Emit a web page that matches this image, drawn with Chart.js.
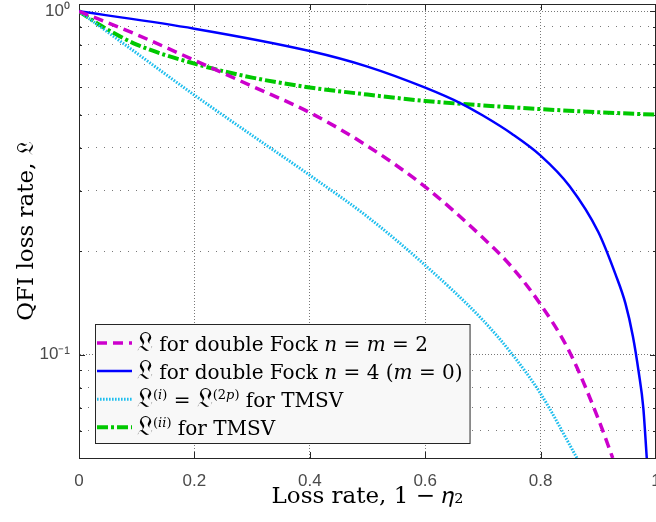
<!DOCTYPE html>
<html>
<head>
<meta charset="utf-8">
<script src="https://cdn.jsdelivr.net/npm/chart.js@4.4.0/dist/chart.umd.min.js"></script>
<style>
  html, body { margin: 0; padding: 0; background: #fff; overflow: hidden; }
  #wrap { width: 656px; height: 522px; }
</style>
</head>
<body>
<div id="wrap"><canvas id="qfiChart" width="656" height="522"></canvas></div>
<script>
// values (loss rate 1 - eta2 vs QFI loss rate)
const fock22X = [0, 0.1, 0.2, 0.3, 0.4, 0.5, 0.6, 0.7, 0.75, 0.8, 0.85, 0.9, 0.925];
const fock22Y = [1, 0.855, 0.72, 0.605, 0.507, 0.405, 0.308, 0.219, 0.18, 0.14, 0.102, 0.065, 0.05];

const fock40X = [0, 0.2, 0.4, 0.5, 0.6, 0.665, 0.7, 0.75, 0.8, 0.85, 0.9, 0.93, 0.947, 0.96, 0.97, 0.978, 0.984];
const fock40Y = [1, 0.89, 0.766, 0.69, 0.599, 0.536, 0.497, 0.44, 0.38, 0.31, 0.2276, 0.171, 0.141, 0.113, 0.089, 0.07, 0.05];

const tmsv2pX = [0, 0.1, 0.2, 0.3, 0.4, 0.5, 0.6, 0.7, 0.75, 0.8, 0.863];
const tmsv2pY = [1, 0.755, 0.57, 0.435, 0.333, 0.252, 0.182, 0.126, 0.1006, 0.077, 0.05];

const tmsvIIX = [0, 0.037, 0.1, 0.2, 0.3, 0.4, 0.5, 0.6, 0.7, 0.8, 0.9, 1.0];
const tmsvIIY = [1, 0.91, 0.80, 0.704, 0.641, 0.60, 0.572, 0.548, 0.532, 0.519, 0.508, 0.5];

const seriesLabels = [
  '𝔏 for double Fock n = m = 2',
  '𝔏 for double Fock n = 4 (m = 0)',
  '𝔏(i) = 𝔏(2p) for TMSV',
  '𝔏(ii) for TMSV'
];
// same labels with _italic_ and ^superscript^ marks for the legend box
const legendRows = [
  '𝔏 for double Fock _n_ = _m_ = 2',
  '𝔏 for double Fock _n_ = 4 (_m_ = 0)',
  '𝔏^(_i_)^ = 𝔏^(2_p_)^ for TMSV',
  '𝔏^(_ii_)^ for TMSV'
];

const xTicks = [0, 0.2, 0.4, 0.6, 0.8, 1];
const yTicks = [0.05, 0.06, 0.07, 0.08, 0.09, 0.1, 0.2, 0.3, 0.4, 0.5, 0.6, 0.7, 0.8, 0.9, 1];
const yTickLabels = { '0.1': '10⁻¹', '1': '10⁰' };

const axisColor = '#262626';
const gridColor = 'rgba(30,30,30,0.6)';
const serif = '"DejaVu Serif"';

function pts(xs, ys) {
  return xs.map((x, i) => ({ x: x, y: ys[i] }));
}
function isMajor(v) {
  return Math.abs(v - 1) < 1e-9 || Math.abs(v - 0.1) < 1e-9;
}

// writes a marked-up string; returns its width
function drawRich(ctx, str, x, y, draw) {
  let italic = false, sup = false, w = 0;
  let run = '';
  const flush = (big) => {
    if (!run) return;
    const size = (sup ? 13 : 20) * (big ? 1.35 : 1);
    ctx.font = (italic ? 'italic ' : '') + size + 'px ' + serif;
    if (draw) ctx.fillText(run, x + w, sup ? y - 8 : y);
    w += ctx.measureText(run).width;
    run = '';
  };
  for (const ch of str) {
    if (ch === '_') { flush(); italic = !italic; }
    else if (ch === '^') { flush(); sup = !sup; }
    else if (ch === '𝔏') { flush(); run = ch; flush(true); }
    else run += ch;
  }
  flush();
  return w;
}

function noEdgePadding(scale) {
  scale.paddingLeft = 0;
  scale.paddingRight = 0;
  scale.paddingTop = 0;
  scale.paddingBottom = 0;
}

const axisBox = {
  id: 'axisBox',
  beforeDatasetsDraw(chart) {
    const { ctx, chartArea: a, scales: { x, y } } = chart;
    ctx.save();
    ctx.strokeStyle = axisColor;
    ctx.lineWidth = 1;
    ctx.beginPath();
    ctx.moveTo(a.left, a.top + 0.5); ctx.lineTo(a.right, a.top + 0.5);
    ctx.moveTo(a.right - 0.5, a.top); ctx.lineTo(a.right - 0.5, a.bottom);
    x.ticks.forEach(t => {
      const px = Math.round(x.getPixelForValue(t.value)) + 0.5;
      ctx.moveTo(px, a.bottom); ctx.lineTo(px, a.bottom - 6);
      ctx.moveTo(px, a.top); ctx.lineTo(px, a.top + 6);
    });
    y.ticks.forEach(t => {
      const py = Math.round(y.getPixelForValue(t.value)) + 0.5;
      const len = isMajor(t.value) ? 6 : 3;
      ctx.moveTo(a.left, py); ctx.lineTo(a.left + len, py);
      ctx.moveTo(a.right, py); ctx.lineTo(a.right - len, py);
    });
    ctx.stroke();
    ctx.restore();
  }
};

const boxLegend = {
  id: 'boxLegend',
  afterDraw(chart) {
    const { ctx, chartArea: a } = chart;
    const sets = chart.data.datasets;
    ctx.save();
    const widths = legendRows.map(r => drawRich(ctx, r, 0, 0, false));
    const w = 42 + Math.max(...widths) + 7;
    const h = 119;
    const left = Math.round(a.left + 16), top = Math.round(a.bottom - 15 - h);
    ctx.fillStyle = '#f8f8f8';
    ctx.fillRect(left, top, w, h);
    ctx.strokeStyle = axisColor;
    ctx.lineWidth = 1;
    ctx.strokeRect(left + 0.5, top + 0.5, w, h);
    sets.forEach((ds, i) => {
      const cy = top + 19 + i * 28.1;
      ctx.strokeStyle = ds.borderColor;
      ctx.lineWidth = ds.borderWidth;
      ctx.setLineDash(ds.borderDash || []);
      ctx.beginPath();
      ctx.moveTo(left + 2, cy);
      ctx.lineTo(left + 37, cy);
      ctx.stroke();
      ctx.setLineDash([]);
      ctx.fillStyle = '#000';
      ctx.textBaseline = 'alphabetic';
      drawRich(ctx, legendRows[i], left + 42, cy + 7.5, true);
    });
    ctx.restore();
  }
};

const ctx = document.getElementById('qfiChart').getContext('2d');

const qfiChart = new Chart(ctx, {
  type: 'line',
  data: {
    datasets: [
      {
        label: seriesLabels[0],
        data: pts(fock22X, fock22Y),
        borderColor: 'rgb(204,0,204)',
        borderWidth: 3.5,
        borderDash: [10, 6]
      },
      {
        label: seriesLabels[1],
        data: pts(fock40X, fock40Y),
        borderColor: 'rgb(0,0,255)',
        borderWidth: 2.5
      },
      {
        label: seriesLabels[2],
        data: pts(tmsv2pX, tmsv2pY),
        borderColor: 'rgb(30,190,238)',
        borderWidth: 3,
        borderDash: [1.6, 1.4]
      },
      {
        label: seriesLabels[3],
        data: pts(tmsvIIX, tmsvIIY),
        borderColor: 'rgb(0,200,0)',
        borderWidth: 4,
        borderDash: [11, 3, 3, 3]
      }
    ]
  },
  options: {
    responsive: false,
    animation: false,
    layout: { autoPadding: false, padding: { top: 4, right: 0, bottom: 0, left: 0 } },
    elements: {
      point: { radius: 0 },
      line: { cubicInterpolationMode: 'monotone', fill: false, borderCapStyle: 'butt' }
    },
    plugins: {
      legend: { display: false },
      tooltip: { enabled: false }
    },
    scales: {
      x: {
        type: 'linear',
        min: 0,
        max: 1,
        afterBuildTicks: scale => { scale.ticks = xTicks.map(v => ({ value: v })); },
        afterFit: scale => { scale.height = 64; noEdgePadding(scale); },
        ticks: {
          autoSkip: false,
          maxRotation: 0,
          padding: 13,
          color: '#4a4a4a',
          font: { family: '"Liberation Sans"', size: 17 },
          callback: v => String(+v.toFixed(1))
        },
        grid: {
          drawTicks: false,
          color: c => (c.tick && (c.tick.value <= 0 || c.tick.value >= 1)) ? 'rgba(0,0,0,0)' : gridColor
        },
        border: { color: axisColor, width: 1, dash: [1, 2] },
        title: {
          display: true,
          text: 'Loss rate, 1 − 𝜂₂',
          color: '#000',
          font: { family: serif, size: 23 },
          padding: { top: 0, bottom: 11 }
        }
      },
      y: {
        type: 'logarithmic',
        min: 0.05,
        max: 1.05,
        afterBuildTicks: scale => { scale.ticks = yTicks.map(v => ({ value: v })); },
        afterFit: scale => { scale.width = 79; noEdgePadding(scale); },
        ticks: {
          autoSkip: false,
          padding: 9,
          color: '#4a4a4a',
          font: { family: '"Liberation Sans"', size: 17 },
          callback: v => yTickLabels[String(+v.toFixed(2))] || ''
        },
        grid: {
          drawTicks: false,
          color: c => (c.tick && c.tick.value <= 0.05) ? 'rgba(0,0,0,0)' : gridColor
        },
        border: {
          color: axisColor,
          width: 1,
          dash: c => (c.tick && isMajor(c.tick.value)) ? [1, 2] : [1, 7]
        },
        title: {
          display: true,
          text: 'QFI loss rate, 𝔏',
          color: '#000',
          font: { family: serif, size: 23 },
          padding: { top: 13, bottom: 0 }
        }
      }
    }
  },
  plugins: [axisBox, boxLegend]
});
</script>
</body>
</html>
